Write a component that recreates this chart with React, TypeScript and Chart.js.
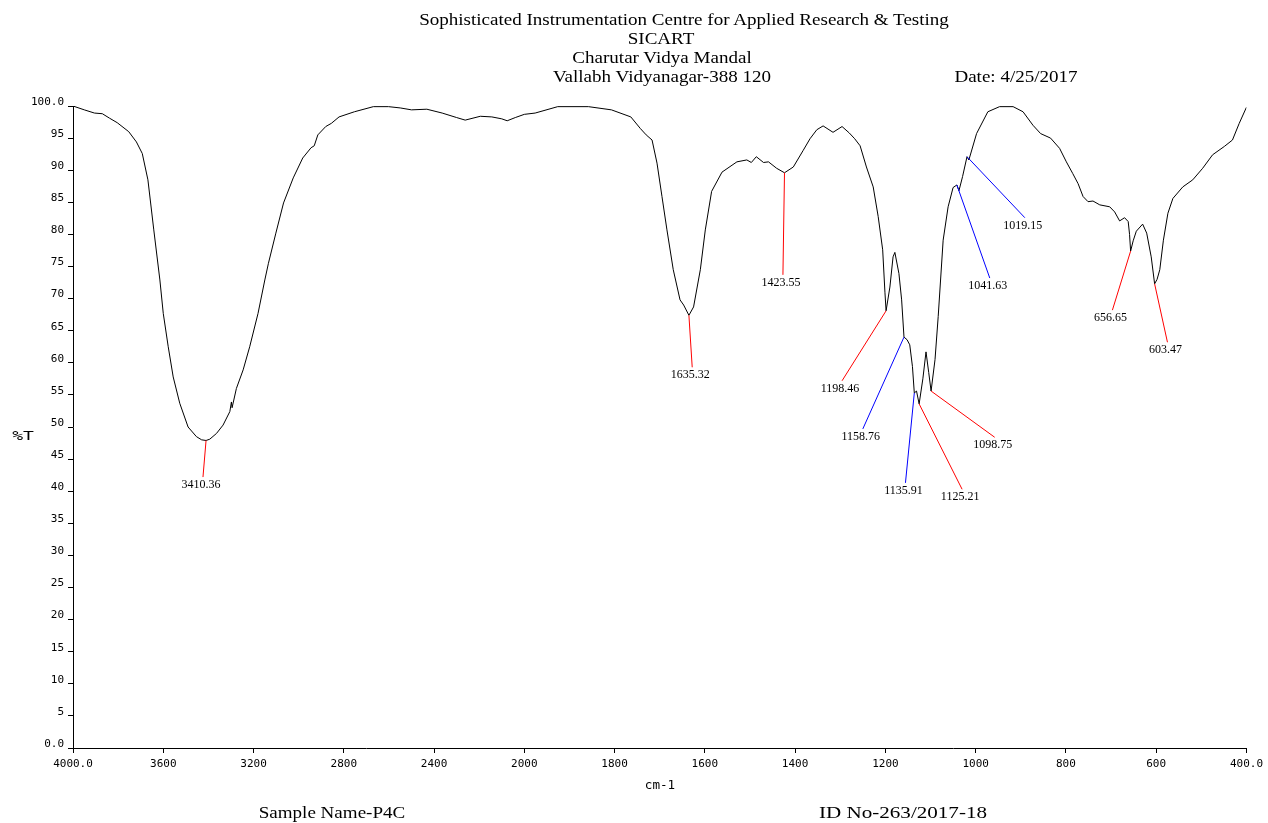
import React, { useEffect, useRef } from 'react';
import { Chart, registerables } from 'chart.js';

Chart.register(...registerables);

// ---- Spectrum data (wavenumber in cm-1, %T) ----
const wavenumbers = [
  4000, 3950, 3905, 3870, 3838, 3804, 3753, 3719, 3693, 3668, 3642, 3615, 3600, 3578, 3556, 3527,
  3490, 3453, 3430, 3410.36, 3394, 3364, 3335, 3305, 3298, 3295, 3276, 3246, 3217, 3180, 3150,
  3134, 3101, 3067, 3024, 2982, 2945, 2931, 2915, 2880, 2855, 2821, 2753, 2669, 2602, 2550, 2500,
  2432, 2364, 2300, 2262, 2195, 2144, 2100, 2076, 2040, 2000, 1976, 1926, 1858, 1807, 1764, 1743,
  1730, 1717, 1706, 1695, 1684, 1670, 1655, 1647, 1635.32, 1625, 1610, 1599, 1585, 1562, 1529,
  1507, 1497, 1486, 1470, 1459, 1441, 1423.55, 1404, 1382, 1367, 1352, 1338, 1316, 1296, 1280,
  1268, 1256, 1242, 1227, 1216, 1206, 1201, 1198.46, 1190, 1183, 1179, 1170, 1164, 1158.76, 1152,
  1146, 1140, 1135.91, 1131, 1125.21, 1117, 1110, 1104, 1098.75, 1090, 1083, 1072, 1061, 1050,
  1041.63, 1037, 1029, 1019.15, 1015, 998, 973, 947, 917, 895, 873, 856, 834, 814, 799, 785, 773,
  762, 751, 740, 725, 703, 692, 681, 670, 662, 659, 656.65, 651, 644, 630, 621, 611, 603.47, 598,
  592, 584, 574, 563, 541, 519, 497, 475, 449, 431, 416, 400,
];

const transmittance = [
  100.0, 99.4, 98.9, 98.8, 98.1, 97.4, 96.0, 94.4, 92.6, 88.5, 80.7, 72.9, 67.7, 62.5, 57.8, 53.7,
  50.0, 48.5, 48.0, 47.9, 48.1, 49.0, 50.3, 52.4, 53.9, 53.0, 56.0, 58.9, 62.5, 67.7, 72.9,
  75.5, 80.2, 84.9, 88.8, 91.9, 93.5, 93.8, 95.5, 96.8, 97.3, 98.3, 99.1, 99.9, 99.9, 99.7, 99.4,
  99.5, 98.9, 98.2, 97.8, 98.4, 98.3, 98.0, 97.7, 98.2, 98.7, 98.9, 99.9, 99.9, 99.4, 98.3, 96.5,
  95.5, 94.7, 91.1, 85.9, 80.7, 74.5, 69.8, 69.0, 67.4, 68.7, 74.5, 80.7, 86.7, 89.7, 91.3,
  91.6, 91.2, 92.1, 91.2, 91.3, 90.3, 89.6, 90.5, 93.1, 94.9, 96.3, 96.9, 95.9, 96.8, 95.8,
  94.9, 93.8, 90.5, 87.4, 82.8, 77.6, 71.0, 68.1, 71.8, 76.5, 77.2, 73.9, 69.8, 64.0, 63.6,
  62.8, 59.4, 55.3, 55.6, 53.6, 57.5, 61.7, 58.5, 55.6, 60.5, 67.2, 79.1, 84.3, 87.3,
  87.7, 86.8, 89.0, 92.1, 91.6, 95.7, 99.1, 99.9, 99.9, 99.1, 97.0, 95.7, 95.0, 93.4, 91.3, 89.5, 87.9,
  85.9, 85.1, 85.2, 84.6, 84.3, 83.5, 82.1, 82.6, 82.0, 80.0, 77.4, 79.0, 80.5, 81.6, 80.2, 76.5, 72.3, 73.0,
  74.5, 79.1, 83.3, 85.6, 87.4, 88.5, 90.3, 92.4, 93.7, 94.7, 97.3, 99.8,
];

// ---- Peak annotations ----
const peakWavenumbers = [3410.36, 1635.32, 1423.55, 1198.46, 1158.76, 1135.91, 1125.21, 1098.75, 1041.63, 1019.15, 656.65, 603.47];
const peakLabelWavenumbers = [3424, 1628, 1427, 1296, 1250, 1155.5, 1030, 957.8, 968.7, 891, 697, 575];
const peakLabelTransmittance = [42.2, 59.3, 73.7, 57.2, 49.7, 41.3, 40.3, 48.4, 73.2, 82.6, 68.2, 63.2];
const peakLineColors = ['#ff0000', '#ff0000', '#ff0000', '#ff0000', '#0000ff', '#0000ff', '#ff0000', '#ff0000', '#0000ff', '#0000ff', '#ff0000', '#ff0000'];

// ---- Axis ticks ----
const xTickWavenumbers = [4000, 3600, 3200, 2800, 2400, 2000, 1800, 1600, 1400, 1200, 1000, 800, 600, 400];
const yTickValues = [0, 5, 10, 15, 20, 25, 30, 35, 40, 45, 50, 55, 60, 65, 70, 75, 80, 85, 90, 95, 100];

// IR spectrometer axis: 4000-2000 compressed by factor two relative to 2000-400
const toAxis = (wn: number) => (wn >= 2000 ? (4000 - wn) / 2 : 1000 + (2000 - wn));
const fromAxis = (u: number) => (u <= 1000 ? 4000 - 2 * u : 3000 - u);

const valueAt = (wn: number) => {
  for (let i = 0; i < wavenumbers.length - 1; i++) {
    const a = wavenumbers[i];
    const b = wavenumbers[i + 1];
    if (wn <= a && wn >= b) {
      const t = a === b ? 0 : (a - wn) / (a - b);
      return transmittance[i] + t * (transmittance[i + 1] - transmittance[i]);
    }
  }
  return transmittance[transmittance.length - 1];
};

const TICK_FONT = '"DejaVu Sans Mono", monospace';
const SERIF = '"Liberation Serif", "Times New Roman", serif';

const peakLabelPlugin = {
  id: 'peakLabels',
  afterDatasetsDraw(chart: any) {
    const { ctx } = chart;
    const x = chart.scales.x;
    const y = chart.scales.y;
    ctx.save();
    peakWavenumbers.forEach((wn, i) => {
      const px = x.getPixelForValue(toAxis(wn));
      const py = y.getPixelForValue(valueAt(wn));
      const ex = x.getPixelForValue(toAxis(peakLabelWavenumbers[i]));
      const ey = y.getPixelForValue(peakLabelTransmittance[i]);
      ctx.strokeStyle = peakLineColors[i];
      ctx.lineWidth = 1;
      ctx.beginPath();
      ctx.moveTo(px, py);
      ctx.lineTo(ex, ey);
      ctx.stroke();
      ctx.fillStyle = '#000';
      ctx.font = `12px ${SERIF}`;
      ctx.textAlign = 'center';
      ctx.textBaseline = 'top';
      ctx.fillText(wn.toFixed(2), ex - 2, ey + 2);
    });
    ctx.restore();
  },
};

type TextSpec = { text: string; cx: number; cy: number; size: number; font: string; sx: number };

const overlayTexts: TextSpec[] = [
  { text: 'Sophisticated Instrumentation Centre for Applied Research & Testing', cx: 684, cy: 19, size: 17, font: SERIF, sx: 1.12 },
  { text: 'SICART', cx: 661, cy: 38, size: 17, font: SERIF, sx: 1.12 },
  { text: 'Charutar Vidya Mandal', cx: 662, cy: 57, size: 17, font: SERIF, sx: 1.12 },
  { text: 'Vallabh Vidyanagar-388 120', cx: 662, cy: 76, size: 17, font: SERIF, sx: 1.12 },
  { text: 'Date: 4/25/2017', cx: 1016, cy: 76, size: 17, font: SERIF, sx: 1.12 },
  { text: '%T', cx: 23, cy: 436, size: 12, font: TICK_FONT, sx: 1.5 },
  { text: 'cm-1', cx: 660, cy: 785, size: 12, font: TICK_FONT, sx: 1.05 },
  { text: 'Sample Name-P4C', cx: 332, cy: 812, size: 17, font: SERIF, sx: 1.12 },
  { text: 'ID No-263/2017-18', cx: 903, cy: 812, size: 17, font: SERIF, sx: 1.24 },
];

export default function App() {
  const canvasRef = useRef<HTMLCanvasElement | null>(null);

  useEffect(() => {
    if (!canvasRef.current) return;
    const points = wavenumbers.map((wn, i) => ({ x: toAxis(wn), y: transmittance[i] }));
    const chart = new Chart(canvasRef.current, {
      type: 'line',
      data: {
        datasets: [
          {
            label: '%T',
            data: points,
            borderColor: '#000',
            borderWidth: 1,
            pointRadius: 0,
            tension: 0,
            fill: false,
          },
        ],
      },
      options: {
        responsive: false,
        animation: false,
        events: [],
        layout: { padding: { left: 0, right: 20, top: 106, bottom: 0 } },
        plugins: {
          legend: { display: false },
          title: { display: false },
          tooltip: { enabled: false },
        },
        scales: {
          x: {
            type: 'linear',
            min: 0,
            max: 2600,
            afterBuildTicks: (scale: any) => {
              scale.ticks = xTickWavenumbers.map((wn) => ({ value: toAxis(wn) }));
            },
            afterFit: (scale: any) => {
              scale.height = 75;
            },
            ticks: {
              autoSkip: false,
              maxRotation: 0,
              padding: 5,
              color: '#000',
              font: { family: TICK_FONT, size: 11 },
              callback: (value: any) => {
                const wn = Math.round(fromAxis(Number(value)));
                return wn === 4000 || wn === 400 ? wn.toFixed(1) : String(wn);
              },
            },
            grid: { display: true, drawOnChartArea: false, drawTicks: true, tickLength: 5, color: '#000' },
            border: { display: true, color: '#000', width: 1 },
          },
          y: {
            type: 'linear',
            min: 0,
            max: 100,
            afterBuildTicks: (scale: any) => {
              scale.ticks = yTickValues.map((v) => ({ value: v }));
            },
            afterFit: (scale: any) => {
              scale.width = 73;
            },
            ticks: {
              autoSkip: false,
              padding: 4,
              labelOffset: -4,
              color: '#000',
              font: { family: TICK_FONT, size: 11 },
              callback: (value: any) => {
                const v = Number(value);
                return v === 100 || v === 0 ? v.toFixed(1) : String(v);
              },
            },
            grid: { display: true, drawOnChartArea: false, drawTicks: true, tickLength: 5, color: '#000' },
            border: { display: true, color: '#000', width: 1 },
          },
        },
      },
      plugins: [peakLabelPlugin],
    });
    return () => chart.destroy();
  }, []);

  return (
    <div style={{ position: 'fixed', left: 0, top: 0, width: 1268, height: 823, background: '#fff', overflow: 'hidden' }}>
      <canvas ref={canvasRef} width={1268} height={823} style={{ position: 'absolute', left: 0, top: 0, width: 1268, height: 823 }} />
      {overlayTexts.map((t) => (
        <div
          key={t.text}
          style={{
            position: 'absolute',
            left: t.cx,
            top: t.cy,
            transform: `translate(-50%, -50%) scaleX(${t.sx})`,
            fontFamily: t.font,
            fontSize: t.size,
            lineHeight: 1,
            whiteSpace: 'nowrap',
            color: '#000',
          }}
        >
          {t.text}
        </div>
      ))}
    </div>
  );
}
